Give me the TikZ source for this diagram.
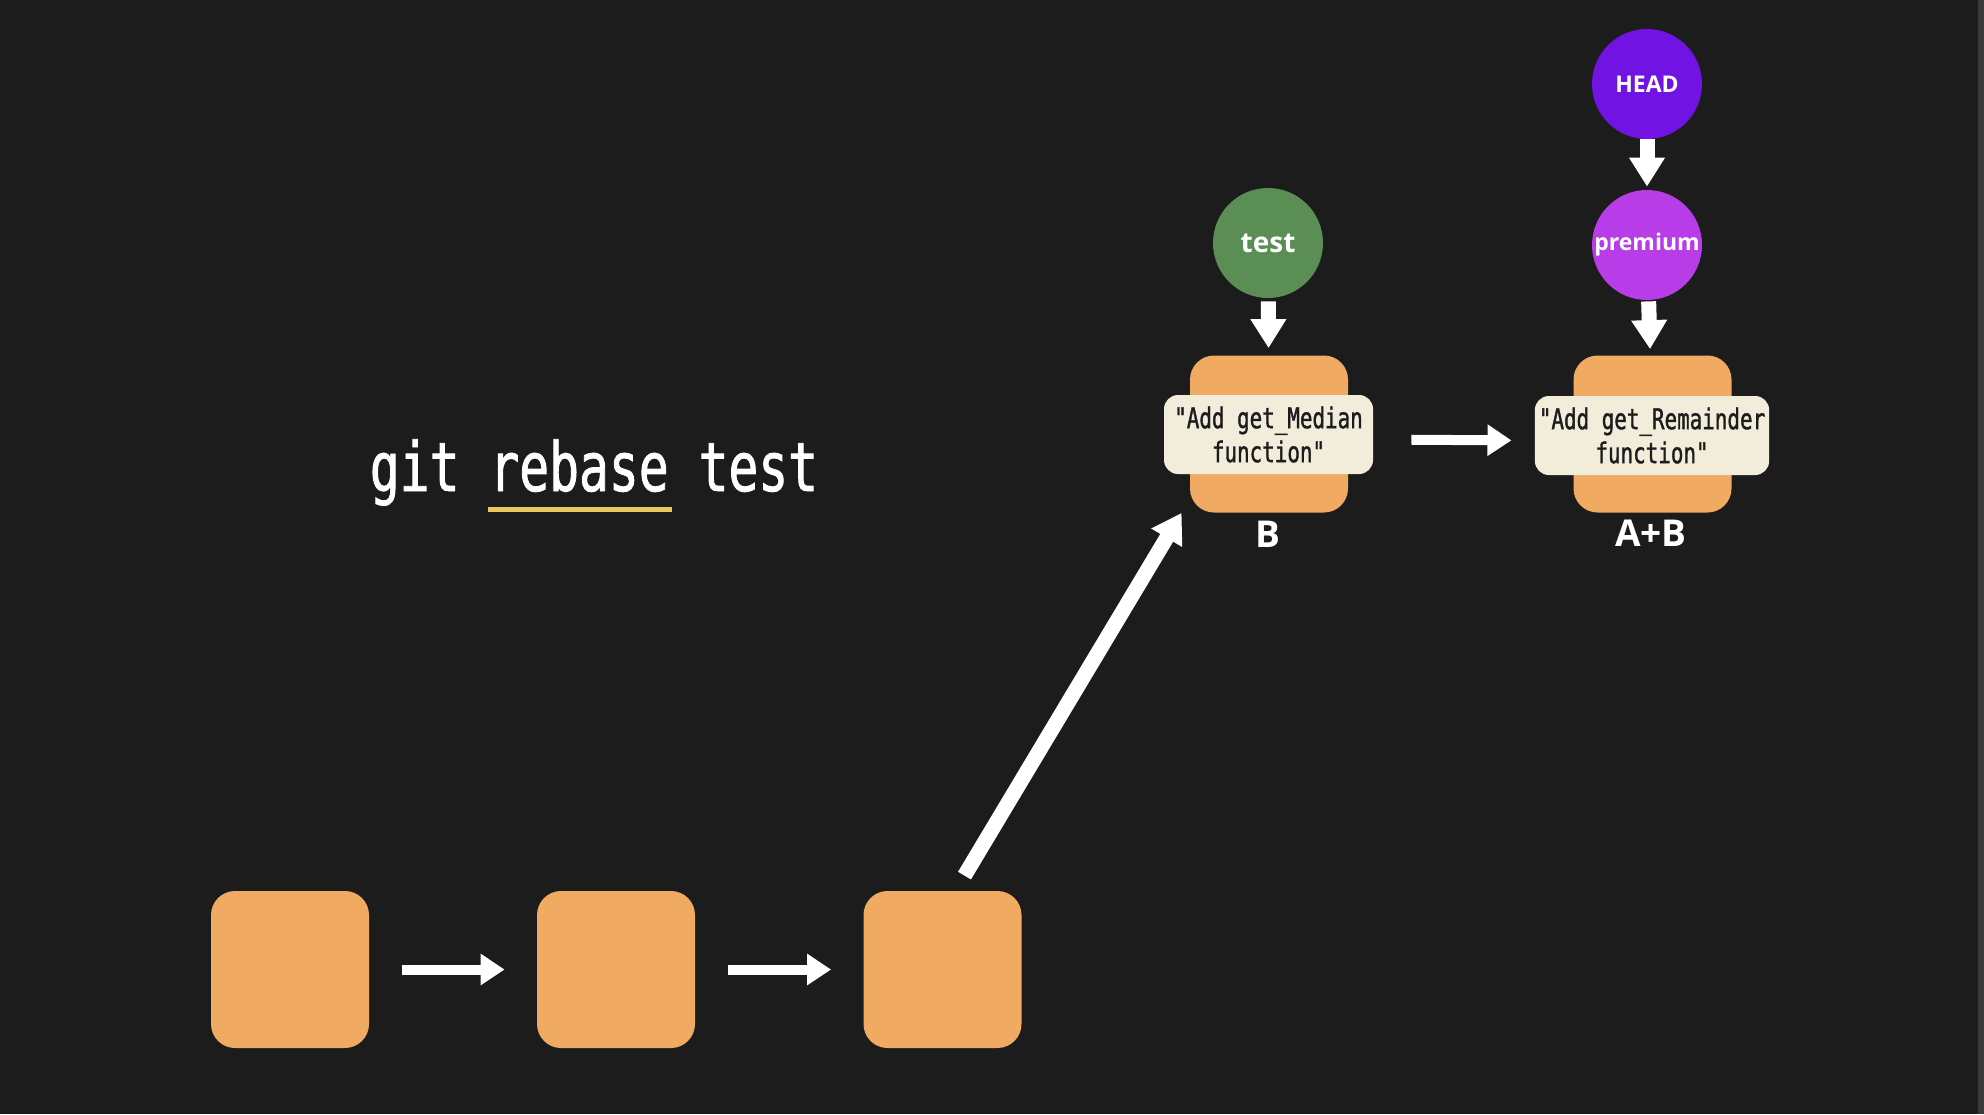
\documentclass[tikz,border=0pt]{standalone}
\usepackage{fontspec}
\usetikzlibrary{arrows.meta,positioning}
\newfontfamily\codefont{DejaVu Sans Mono}[FakeStretch=0.73,FakeBold=1.2]
\newfontfamily\tagfont{Open Sans}
\definecolor{bgdark}{HTML}{1C1C1C}
\definecolor{edgegray}{HTML}{3A3A3A}
\definecolor{commitorange}{HTML}{F0AA62}
\definecolor{msgcream}{HTML}{F2ECDB}
\definecolor{testgreen}{HTML}{5A8E55}
\definecolor{premiumpurple}{HTML}{B83DE8}
\definecolor{headpurple}{HTML}{7013E3}
\definecolor{underlineyellow}{HTML}{E8C862}

\begin{document}
\begin{tikzpicture}[x=0.5pt,y=-0.5pt]
\tikzset{commit/.style={fill=commitorange, rounded corners=12pt,
minimum width=79pt, minimum height=78.5pt, inner sep=0pt},
message/.style={fill=msgcream, rounded corners=7pt, align=center,
minimum height=39.5pt, inner xsep=2pt, inner ysep=0pt,
font=\codefont\fontsize{14.3}{17}\selectfont, text=bgdark},
branch/.style={circle, minimum size=55pt, inner sep=0pt, text=white,
font=\tagfont\bfseries\fontsize{11.5}{13}\selectfont},
commitlabel/.style={text=white, anchor=base,
font=\tagfont\bfseries\fontsize{18.5}{20}\selectfont},
flow/.style={white, line width=5pt, -{Triangle[width=15pt,length=12pt]}},
bigflow/.style={white, line width=7.5pt, -{Triangle[width=17pt,length=14.5pt]}},
}

\fill[bgdark] (0,0) rectangle (1984,1114);
\fill[edgegray] (1978,0) rectangle (1984,1114);

% command
\node[text=white, anchor=base, font=\codefont\fontsize{34}{38}\selectfont]
  (cmd) at (594,491) {git rebase test};
\draw[underlineyellow, line width=2.5pt] (488,509) -- (672,509);

% old history
\node[commit] (c1) at (290,969.5) {};
\node[commit] (c2) at (616,969.5) {};
\node[commit] (c3) at (942.5,969.5) {};

% rebased commits
\node[commit] (cB) at (1269,434) {};
\node[commit] (cAB) at (1652.5,434) {};
\node[message, minimum width=104.5pt] (msgB) at (1268.5,434.5)
  {"Add get\_Median\\function"};
\node[message, minimum width=117pt] (msgAB) at (1652,435.5)
  {"Add get\_Remainder\\function"};
\node[commitlabel] (lblB) at (1268,547) {B};
\node[commitlabel] (lblAB) at (1651,546) {A+B};

% branches
\node[branch, fill=testgreen, font=\tagfont\bfseries\fontsize{14}{16}\selectfont]
  (test) at (1268,243) {test};
\node[branch, fill=premiumpurple] (premium) at (1647,245) {premium};
\node[branch, fill=headpurple] (head) at (1647,84) {HEAD};

\draw[flow, shorten <=16.5pt, shorten >=16pt] (c1) -- (c2);
\draw[flow, shorten <=16.5pt, shorten >=16pt] (c2) -- (c3);
\draw[bigflow] ([xshift=11pt,yshift=7.5pt]c3.north) -- ([xshift=-4pt]cB.south west);
\draw[flow, shorten <=19pt, shorten >=11.5pt] ([yshift=-2.5pt]msgB.east) -- ([yshift=-2.5pt]msgAB.west);
\draw[bigflow, shorten <=1.5pt, shorten >=3.5pt] (test) -- (cB);
\draw[bigflow, shorten >=1.5pt] (head) -- (premium);
\draw[bigflow, shorten <=0.5pt, shorten >=3pt] (premium) -- (cAB);
\end{tikzpicture}
\end{document}
